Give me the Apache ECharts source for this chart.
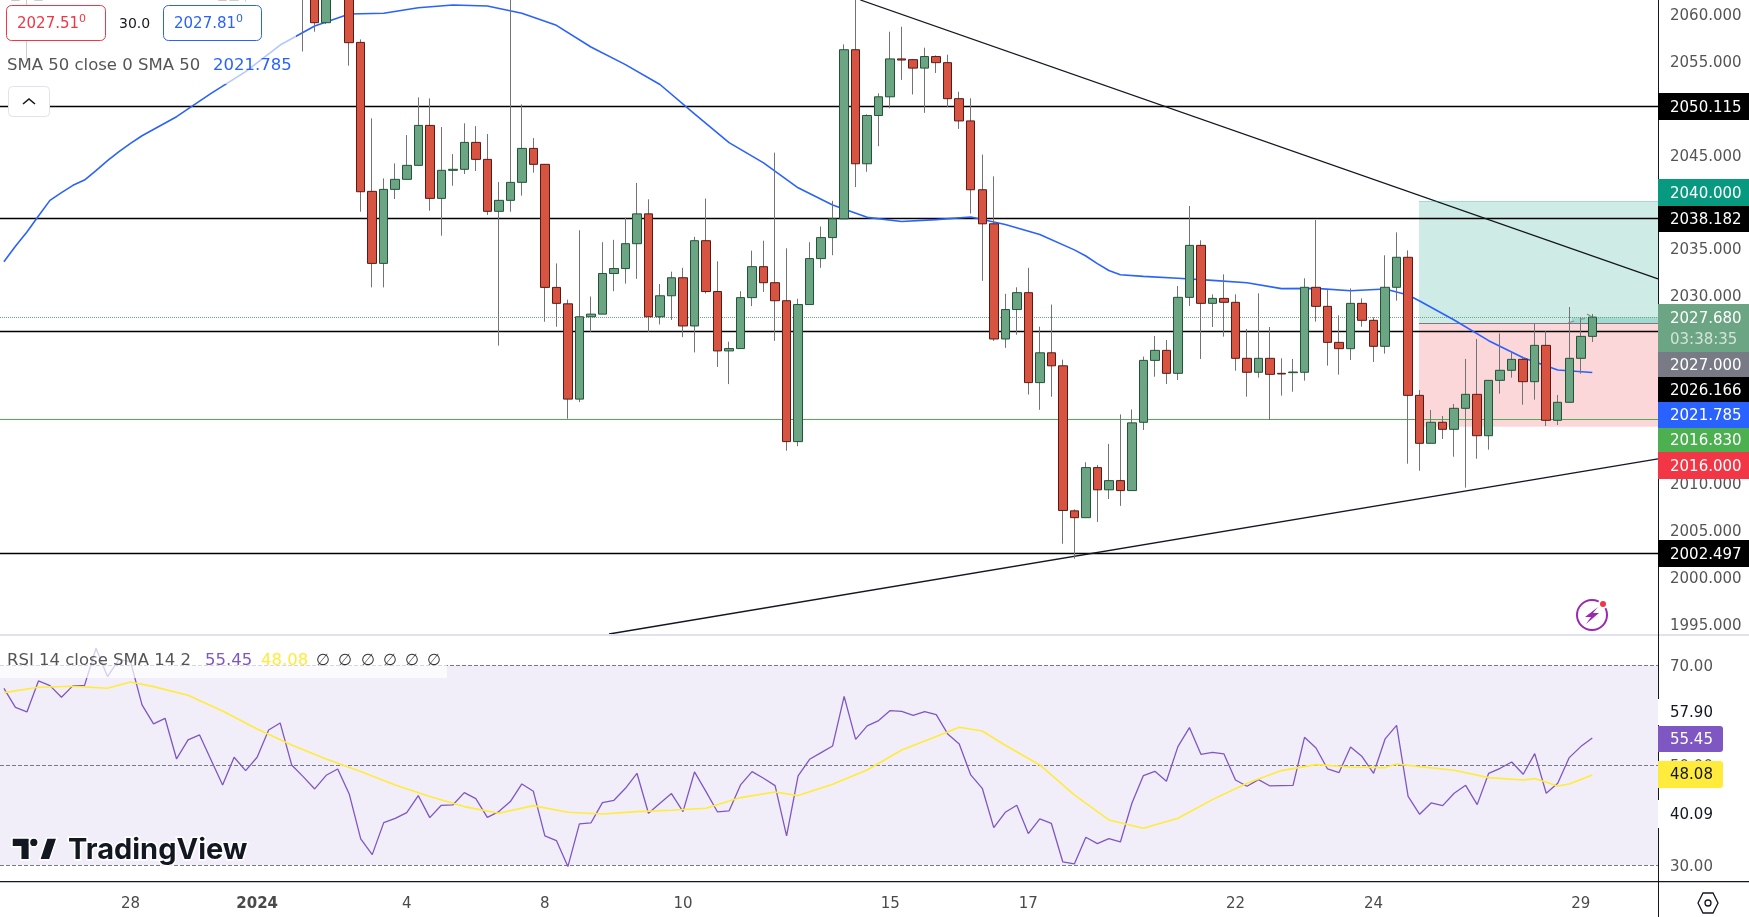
<!DOCTYPE html>
<html>

<head>
    <meta charset="UTF-8">
    <style type="text/css">
        html, body { margin: 0; padding: 0; background: #fff; }
        #chart { width: 1749px; height: 917px; }
    </style>
</head>

<body>
    <div id="chart"></div>
    <script src="https://cdn.jsdelivr.net/npm/echarts@6/dist/echarts.min.js"></script>
    <script type="text/javascript">
        'use strict';
        // 4h candles. null = candle sits above the pane and can't be read
        var opens = [
            null, 2064, 2063.5, 2061.47, null, null, null, null, null, null,
            null, null, null, null, null, null, null, null, null, 2064,
            2061.47, 2064, null, null, null, null, 2065, 2065, 2059.07, null,
            2065, 2056.97, 2041.09, 2033.41, 2041.30, 2042.37, 2043.86, 2048.12, 2040.34, 2043.33,
            2043.44, 2046.31, 2044.50, 2038.96, 2040.13, 2042.05, 2045.67, 2043.97, 2030.85, 2029.10,
            2018.94, 2027.72, 2028.00, 2032.33, 2032.86, 2035.51, 2038.69, 2027.72, 2029.96, 2031.88,
            2026.74, 2035.83, 2030.41, 2024.08, 2024.33, 2029.76, 2033.06, 2031.35, 2029.43, 2014.41,
            2029.02, 2033.92, 2036.16, 2038.16, 2056.19, 2044.03, 2049.18, 2051.17, 2055.21, 2055.13,
            2054.23, 2055.46, 2054.81, 2050.97, 2048.60, 2041.26, 2037.63, 2025.35, 2028.49, 2030.29,
            2020.70, 2023.88, 2022.49, 2007.03, 2006.30, 2011.64, 2009.27, 2010.25, 2009.19, 2016.47,
            2023.07, 2024.14, 2021.69, 2029.79, 2035.33, 2029.15, 2029.68, 2029.26, 2023.29, 2021.80,
            2023.29, 2021.69, 2021.76, 2021.80, 2030.86, 2028.83, 2024.99, 2024.32, 2029.15, 2027.34,
            2024.57, 2030.86, 2034.06, 2019.34, 2014.23, 2016.47, 2015.72, 2017.96, 2019.45, 2015.04,
            2020.94, 2022.01, 2023.18, 2020.80, 2024.67, 2016.68, 2018.60, 2023.29, 2025.63
        ];
        var closes = [
            null, 2061.47, 2063, 2064, null, null, null, null, null, null,
            null, null, null, null, null, null, null, null, null, 2061.47,
            2064, 2063, null, null, null, null, 2064, 2059.07, 2063.5, null,
            2056.94, 2041.05, 2033.41, 2041.30, 2042.37, 2043.86, 2048.12, 2040.34, 2043.33, 2043.44,
            2046.31, 2044.50, 2038.96, 2040.13, 2042.05, 2045.67, 2043.97, 2030.85, 2029.15, 2018.94,
            2027.72, 2028.00, 2032.33, 2032.86, 2035.51, 2038.69, 2027.72, 2029.96, 2031.88, 2026.74,
            2035.83, 2030.41, 2024.08, 2024.33, 2029.76, 2033.06, 2031.35, 2029.43, 2014.41, 2029.02,
            2033.92, 2036.16, 2038.16, 2056.19, 2044.03, 2049.18, 2051.17, 2055.21, 2055.09, 2054.23,
            2055.46, 2054.81, 2050.97, 2048.60, 2041.26, 2037.63, 2025.35, 2028.49, 2030.29, 2020.70,
            2023.88, 2022.49, 2007.07, 2006.30, 2011.64, 2009.27, 2010.25, 2009.19, 2016.41, 2023.07,
            2024.14, 2021.69, 2029.79, 2035.33, 2029.15, 2029.68, 2029.26, 2023.29, 2021.80, 2023.29,
            2021.58, 2021.62, 2021.83, 2030.86, 2028.83, 2024.99, 2024.32, 2029.15, 2027.34, 2024.57,
            2030.86, 2034.06, 2019.34, 2014.23, 2016.47, 2015.72, 2017.96, 2019.45, 2015.04, 2020.94,
            2022.01, 2023.18, 2020.80, 2024.67, 2016.68, 2018.60, 2023.29, 2025.63, 2027.68
        ];
        var lows = [
            null, 2061.47, 2055.09, 2061.47, null, null, null, null, null, null,
            null, null, null, null, null, null, null, null, null, 2061.47,
            2061.47, 2061.31, null, null, null, null, 2056.0, 2058.11, 2058.93, null,
            2054.49, 2038.92, 2030.85, 2030.85, 2040.27, 2042.37, 2043.86, 2039.03, 2036.36, 2041.69,
            2042.94, 2043.26, 2038.57, 2024.64, 2038.92, 2040.63, 2043.08, 2027.19, 2026.66, 2016.85,
            2018.62, 2026.12, 2028.00, 2030.45, 2031.25, 2031.76, 2026.12, 2026.90, 2027.39, 2025.55,
            2023.92, 2030.20, 2022.37, 2020.54, 2024.33, 2028.86, 2030.37, 2025.15, 2013.44, 2013.92,
            2029.02, 2032.94, 2034.28, 2038.16, 2041.55, 2043.18, 2045.90, 2049.95, 2052.97, 2051.42,
            2049.46, 2053.71, 2050.07, 2047.75, 2038.73, 2031.55, 2025.15, 2024.41, 2025.80, 2019.43,
            2017.80, 2019.19, 2003.52, 2001.93, 2006.30, 2005.85, 2008.29, 2007.56, 2009.19, 2015.65,
            2021.33, 2020.55, 2020.98, 2028.87, 2023.22, 2026.63, 2025.60, 2021.97, 2019.20, 2021.23,
            2016.71, 2019.31, 2019.73, 2020.91, 2027.20, 2022.51, 2021.55, 2023.11, 2026.66, 2022.90,
            2023.79, 2029.44, 2012.06, 2011.31, 2014.23, 2014.69, 2012.80, 2009.50, 2012.59, 2013.55,
            2019.52, 2021.23, 2018.35, 2018.88, 2016.07, 2016.18, 2018.60, 2021.65, 2025.03
        ];
        var highs = [
            null, 2065, 2064.5, 2065, null, null, null, null, null, null,
            null, null, null, null, null, null, null, null, null, 2065,
            2065, 2065, null, null, null, null, 2067, 2066, 2065, null,
            2066, 2057.29, 2048.87, 2042.47, 2044.07, 2047.09, 2051.11, 2051.00, 2047.95, 2045.07,
            2048.34, 2048.05, 2047.20, 2042.08, 2063, 2050.36, 2046.77, 2044.00, 2033.41, 2029.55,
            2036.94, 2029.88, 2035.67, 2035.92, 2038.28, 2041.99, 2040.24, 2031.22, 2032.53, 2032.94,
            2036.24, 2040.32, 2033.63, 2025.06, 2030.45, 2034.77, 2035.83, 2045.22, 2035.02, 2029.63,
            2035.67, 2037.34, 2040.08, 2056.76, 2062.5, 2049.30, 2051.54, 2058.11, 2058.64, 2055.21,
            2056.40, 2055.58, 2055.66, 2051.71, 2051.01, 2045.01, 2042.69, 2030.16, 2030.86, 2032.94,
            2026.66, 2029.02, 2023.15, 2007.19, 2012.21, 2011.92, 2014.17, 2017.31, 2017.84, 2023.47,
            2025.67, 2025.24, 2031.00, 2039.53, 2035.87, 2030.11, 2032.24, 2030.11, 2026.42, 2030.22,
            2026.63, 2023.29, 2023.22, 2031.82, 2038.04, 2030.57, 2027.87, 2030.75, 2029.68, 2027.66,
            2034.27, 2036.72, 2034.80, 2019.91, 2017.78, 2017.14, 2018.42, 2023.22, 2025.35, 2020.94,
            2025.95, 2024.00, 2023.47, 2026.95, 2026.17, 2019.38, 2028.76, 2027.66, 2028.01
        ];

        // SMA 50, read every few candles
        var smaIndex = [0, 1, 2, 3, 4, 5, 6, 7, 8, 9, 10, 11, 12, 15, 18, 21, 24, 27, 30, 33, 36, 39, 42, 45, 48, 51, 54, 57, 60, 63, 66, 69, 72, 75, 78, 81, 84, 87, 90, 93, 94, 95, 96, 97, 99, 102, 105, 108, 111, 114, 117, 120, 122, 123, 126, 129, 132, 135, 138];
        var smaValues = [2033.59, 2035.23, 2036.75, 2038.46, 2040.13, 2040.95, 2041.73, 2042.30, 2043.29, 2044.36, 2045.32, 2046.21, 2047.02, 2049.05, 2051.54, 2053.85, 2056.69, 2058.72, 2059.99, 2060.07, 2060.67, 2060.95, 2060.85, 2060.07, 2058.79, 2056.48, 2054.60, 2052.48, 2049.34, 2046.28, 2044.12, 2041.47, 2039.63, 2038.32, 2037.87, 2038.08, 2038.36, 2037.55, 2036.49, 2034.85, 2034.20, 2033.39, 2032.65, 2032.20, 2032.03, 2031.82, 2031.60, 2031.35, 2030.72, 2030.75, 2030.50, 2030.68, 2030.04, 2029.40, 2027.37, 2025.17, 2023.36, 2022.04, 2021.785];

        var rsiValues = [
            65.40, 61.60, 60.67, 66.87, 65.94, 63.60, 65.94, 65.94, 73.40, 67.74,
            71.20, 70.74, 62.07, 58.27, 59.40, 51.27, 55.07, 56.07, 51.07, 46.07,
            51.60, 48.94, 51.60, 57.07, 58.47, 50.07, 47.74, 45.27, 48.00, 49.27,
            44.27, 35.27, 32.14, 38.54, 39.40, 40.54, 43.94, 39.54, 42.00, 42.07,
            44.54, 43.34, 39.60, 40.74, 42.74, 46.27, 44.80, 35.87, 34.94, 29.74,
            38.27, 38.47, 42.54, 43.00, 45.40, 48.40, 40.40, 42.40, 44.34, 40.74,
            48.67, 44.74, 40.67, 40.87, 46.07, 48.74, 47.40, 45.94, 35.87, 47.87,
            51.20, 52.54, 53.87, 63.80, 55.20, 57.87, 58.94, 60.94, 60.80, 60.00,
            60.74, 60.14, 56.27, 54.27, 48.07, 45.40, 37.54, 40.60, 42.00, 36.34,
            39.27, 38.40, 30.67, 30.27, 35.60, 34.34, 35.34, 34.67, 42.40, 47.94,
            48.80, 46.80, 53.74, 57.54, 52.20, 52.60, 52.27, 47.07, 45.80, 47.14,
            45.87, 45.94, 46.00, 55.60, 53.47, 49.27, 48.54, 53.67, 51.74, 48.40,
            55.27, 58.00, 43.80, 40.20, 42.47, 41.94, 44.40, 46.00, 42.14, 48.40,
            49.40, 50.67, 48.20, 52.34, 44.40, 46.40, 51.54, 53.74, 55.45
        ];
        var signalIndex = [0, 3, 6, 9, 11, 13, 16, 19, 22, 25, 28, 31, 34, 37, 40, 43, 46, 49, 52, 55, 58, 61, 64, 67, 69, 72, 75, 78, 81, 83, 85, 87, 90, 93, 96, 99, 102, 105, 108, 111, 114, 117, 120, 121, 123, 126, 129, 132, 133, 135, 136, 138];
        var signalValues = [64.54, 65.60, 65.80, 65.40, 66.67, 65.74, 64.00, 60.87, 57.27, 54.07, 51.27, 48.74, 46.07, 43.74, 41.74, 40.40, 41.94, 40.60, 40.27, 40.74, 41.00, 41.40, 43.54, 44.67, 43.94, 46.20, 49.07, 53.07, 55.74, 57.60, 56.87, 54.00, 50.07, 44.07, 39.07, 37.40, 39.40, 43.14, 46.40, 48.94, 50.14, 49.67, 49.54, 50.27, 49.74, 49.00, 47.54, 47.07, 47.34, 45.87, 46.27, 48.08];

        var tickIndex = [11, 22, 35, 47, 59, 77, 89, 107, 119, 137];
        var tickLabels = ['28', '2024', '4', '8', '10', '15', '17', '22', '24', '29'];
        var priceTicks = [1995, 2000, 2005, 2010, 2015, 2020, 2025, 2030, 2035, 2040, 2045, 2050, 2055, 2060];
        var rsiTicks = [30, 50, 70];

        var levels = [2050.115, 2038.182, 2026.166, 2002.497];
        var support = 2016.83;
        var lastPrice = 2027.68;
        var entry = 2027, target = 2040, stop = 2016;
        var upperTrend = [[74.41, 2061.49], [143.71, 2031.75]];
        var lowerTrend = [[52.57, 1993.9], [143.71, 2012.56]];
        var boxStart = 122.94, filledStart = 136.2;

        var xMin = -0.34, xMax = 143.71;

        var wickData = [], bodyData = [];
        opens.forEach(function (o, i) {
            if (o === null) return;
            var c = closes[i];
            wickData.push([i, o, c, lows[i], highs[i]]);
            bodyData.push([i, o, c, Math.min(o, c), Math.max(o, c)]);
        });
        function pairs(xs, ys) {
            return xs.map(function (x, i) { return [x, ys[i]]; });
        }

        var FONT = '"DejaVu Sans"';
        var graphics = [];
        function rect(x, y, w, h, fill, extra) {
            graphics.push({
                type: 'rect', z: 100, silent: true,
                shape: { x: x, y: y, width: w, height: h, r: (extra && extra.r) || 0 },
                style: { fill: fill, stroke: (extra && extra.stroke) || null, lineWidth: 1, opacity: (extra && extra.opacity) || 1 }
            });
        }
        function text(str, x, y, color, size, extra) {
            graphics.push({
                type: 'text', z: 101, silent: true,
                style: Object.assign({
                    text: str, x: x, y: y, fill: color,
                    font: (size || 15) + 'px ' + FONT,
                    textAlign: 'left', textVerticalAlign: 'middle'
                }, extra || {})
            });
        }
        function shape(type, shapeOpt, style) {
            graphics.push({ type: type, z: 101, silent: true, shape: shapeOpt, style: style });
        }
        function tag(str, top, bottom, fill, color) {
            rect(1658, top, 91, bottom - top, fill);
            text(str, 1670, (top + bottom) / 2 + 1.5, color || '#fff');
        }

        // panes separator, bottom rule, scale border
        rect(0, 634, 1749, 2, '#e0e3eb');
        rect(0, 881, 1749, 1.2, '#131722');
        rect(1658, 0, 1, 917, '#131722');

        // price scale tags
        tag('2050.115', 93, 120, '#000');
        tag('2040.000', 179, 206, '#089981');
        tag('2038.182', 206, 232, '#000');
        rect(1658, 304, 91, 48, '#6ba583');
        text('2027.680', 1670, 319, '#fff');
        text('03:38:35', 1670, 340, 'rgba(255,255,255,0.7)');
        tag('2027.000', 352, 377, '#787b86');
        tag('2026.166', 377, 402, '#000');
        tag('2021.785', 402, 428, '#2962ff');
        tag('2016.830', 428, 452, '#4caf50');
        tag('2016.000', 452, 479, '#f23645');
        tag('2002.497', 540, 567, '#000');

        // rsi scale tags
        rect(1658, 699, 70, 26, '#fff');
        text('57.90', 1670, 713.5, '#131722');
        rect(1658, 800, 70, 28, '#fff');
        text('40.09', 1670, 815.5, '#131722');
        rect(1658, 726, 65, 26, '#7e57c2', { r: [0, 3, 3, 0] });
        text('55.45', 1670, 740.5, '#fff');
        rect(1658, 761, 65, 27, '#ffeb3b', { r: [0, 3, 3, 0] });
        text('48.08', 1670, 775.5, '#131722');

        // legend on the main pane
        rect(0, 0, 296, 84, '#fff', { opacity: 0.65 });
        rect(6.5, 5.5, 99, 35, '#fff', { stroke: '#f23645', r: 5 });
        text('2027.51', 17, 24, '#f23645');
        text('0', 79, 19, '#f23645', 11);
        text('30.0', 119, 24.5, '#131722', 14);
        rect(163.5, 5.5, 98, 35, '#fff', { stroke: '#2962ff', r: 5 });
        text('2027.81', 174, 24, '#2962ff');
        text('0', 236, 19, '#2962ff', 11);
        text('SMA 50 close 0 SMA 50', 7, 66, '#555', 16.5);
        text('2021.785', 213, 66, '#2962ff', 16.5);
        rect(8.5, 86.5, 41, 30, '#fff', { stroke: '#e0e3eb', r: 4 });
        shape('polyline', { points: [[23, 104], [29, 99], [35, 104]] }, { stroke: '#131722', lineWidth: 1.6, fill: null });

        // legend on the rsi pane
        rect(0, 646, 447, 32, '#fff', { opacity: 0.7 });
        text('RSI 14 close SMA 14 2', 7, 661, '#555', 16.5);
        text('55.45', 205, 661, '#7e57c2', 16.5);
        text('48.08', 261, 661, '#ffeb3b', 16.5);
        [323, 345, 368, 390, 412, 434].forEach(function (x) {
            text('\u2205', x - 7, 661, '#333', 16);
        });

        // TradingView logo
        var logoStyle = { fill: '#131722', stroke: '#fff', lineWidth: 1.5 };
        shape('polygon', { points: [[29.4, 838], [12, 838], [12, 846.7], [20.7, 846.7], [20.7, 859.8], [29.4, 859.8]] }, logoStyle);
        shape('polygon', { points: [[49.7, 859.8], [39.6, 859.8], [46.8, 838], [57, 838]] }, logoStyle);
        shape('circle', { cx: 33.8, cy: 842.4, r: 4.35 }, logoStyle);
        text('TradingView', 68, 850, '#131722', 29, {
            font: '700 29px Inter', stroke: '#fff', lineWidth: 3
        });

        // bolt icon
        shape('circle', { cx: 1592, cy: 615, r: 15 }, { fill: '#fff', stroke: '#9c27b0', lineWidth: 2 });
        shape('polygon', { points: [[1598, 607], [1585, 617], [1591, 617], [1586, 624], [1599, 613], [1593, 613]] }, { fill: '#9c27b0' });
        shape('circle', { cx: 1603, cy: 604, r: 4 }, { fill: '#f23645', stroke: '#fff', lineWidth: 2 });

        // small grey arrows of the position tool
        [[[1568, 323], [1574, 321]], [[1580, 319.5], [1585, 318.5]], [[1587, 314], [1592, 317]]].forEach(function (pts) {
            shape('polyline', { points: pts }, { stroke: '#8a8a8a', lineWidth: 1.2, fill: null });
        });

        // settings hexagon
        shape('polygon', { points: [[1703, 893], [1713, 893], [1718, 903], [1713, 913], [1703, 913], [1698, 903]] }, { fill: '#fff', stroke: '#131722', lineWidth: 1.3 });
        shape('circle', { cx: 1708, cy: 903, r: 3 }, { fill: '#fff', stroke: '#131722', lineWidth: 1.3 });

        var levelLines = levels.map(function (v) {
            return { yAxis: v, lineStyle: { color: '#000', width: 1.3, type: 'solid' } };
        });
        levelLines.push({ yAxis: support, lineStyle: { color: '#4caf50', width: 1.2, type: 'solid' } });
        levelLines.push({ yAxis: lastPrice, lineStyle: { color: '#6ba583', width: 1, type: 'dotted' } });
        [upperTrend, lowerTrend].forEach(function (t) {
            levelLines.push([
                { coord: t[0], lineStyle: { color: '#131722', width: 1.3, type: 'solid' } },
                { coord: t[1] }
            ]);
        });
        levelLines.push([
            { coord: [boxStart, entry], lineStyle: { color: '#787b86', width: 1.2, type: 'solid' } },
            { coord: [xMax, entry] }
        ]);
        levelLines.push([
            { coord: [boxStart, target], lineStyle: { color: 'rgba(8,153,129,0.3)', width: 1, type: 'solid' } },
            { coord: [xMax, target] }
        ]);

        var chart = echarts.init(document.getElementById('chart'));
        chart.setOption({
            animation: false,
            backgroundColor: '#fff',
            textStyle: { fontFamily: 'DejaVu Sans' },
            grid: [
                { left: 0, top: 0, width: 1658, height: 634 },
                { left: 0, top: 636, width: 1658, height: 245 }
            ],
            xAxis: [
                {
                    type: 'value', gridIndex: 0, min: xMin, max: xMax, show: false
                },
                {
                    type: 'value', gridIndex: 1, min: xMin, max: xMax,
                    axisLine: { show: false },
                    axisTick: { show: false },
                    splitLine: { show: false },
                    axisLabel: {
                        customValues: tickIndex,
                        hideOverlap: false,
                        showMinLabel: true,
                        showMaxLabel: true,
                        margin: 16,
                        fontSize: 15,
                        fontFamily: FONT,
                        color: '#4a4a4a',
                        rich: { b: { fontSize: 15, fontFamily: FONT, fontWeight: 600, color: '#4a4a4a' } },
                        formatter: function (v) {
                            var s = tickLabels[tickIndex.indexOf(v)];
                            return s === '2024' ? '{b|' + s + '}' : s;
                        }
                    }
                }
            ],
            yAxis: [
                {
                    type: 'value', gridIndex: 0, position: 'right', min: 1993.9, max: 2061.49,
                    axisLine: { show: false, onZero: false },
                    axisTick: { show: false },
                    splitLine: { show: false },
                    axisLabel: {
                        customValues: priceTicks,
                        margin: 12,
                        verticalAlign: 'top',
                        lineHeight: 4,
                        fontSize: 15,
                        fontFamily: FONT,
                        color: '#555',
                        formatter: function (v) { return v.toFixed(3); }
                    }
                },
                {
                    type: 'value', gridIndex: 1, position: 'right', min: 26.86, max: 75.86,
                    axisLine: { show: false, onZero: false },
                    axisTick: { show: false },
                    splitLine: { show: false },
                    axisLabel: {
                        customValues: rsiTicks,
                        margin: 12,
                        verticalAlign: 'top',
                        lineHeight: 4,
                        fontSize: 15,
                        fontFamily: FONT,
                        color: '#555',
                        formatter: function (v) { return v.toFixed(2); }
                    }
                }
            ],
            series: [
                {
                    // long / short position boxes and drawn levels
                    type: 'line', xAxisIndex: 0, yAxisIndex: 0, data: [], z: 1, silent: true,
                    markArea: {
                        silent: true, z: 1,
                        data: [
                            [{ coord: [boxStart, target], itemStyle: { color: 'rgba(8,153,129,0.2)' } }, { coord: [xMax, entry] }],
                            [{ coord: [boxStart, entry], itemStyle: { color: 'rgba(242,54,69,0.2)' } }, { coord: [xMax, stop] }],
                            [{ coord: [filledStart, lastPrice], itemStyle: { color: 'rgba(8,153,129,0.22)' } }, { coord: [xMax, entry] }]
                        ]
                    },
                    markLine: {
                        silent: true, z: 2, symbol: ['none', 'none'],
                        label: { show: false },
                        data: levelLines
                    }
                },
                {
                    name: 'SMA 50', type: 'line', xAxisIndex: 0, yAxisIndex: 0, z: 3,
                    data: pairs(smaIndex, smaValues), showSymbol: false, silent: true,
                    lineStyle: { color: '#2962ff', width: 1.6 }
                },
                {
                    // wicks only, thin box keeps them grey
                    type: 'candlestick', xAxisIndex: 0, yAxisIndex: 0, z: 4, silent: true,
                    encode: { x: 0, y: [1, 2, 3, 4] },
                    barWidth: 1,
                    data: wickData,
                    itemStyle: {
                        color: '#737375', color0: '#737375', borderColor: '#737375', borderColor0: '#737375',
                        borderColorDoji: '#737375', borderWidth: 1
                    }
                },
                {
                    type: 'candlestick', xAxisIndex: 0, yAxisIndex: 0, z: 5, silent: true,
                    encode: { x: 0, y: [1, 2, 3, 4] },
                    barWidth: 9,
                    data: bodyData,
                    itemStyle: {
                        color: '#6ba583', color0: '#d75442', borderColor: '#225437', borderColor0: '#5b1a13',
                        borderColorDoji: '#225437', borderWidth: 1
                    }
                },
                {
                    // rsi band and dashed limits
                    type: 'line', xAxisIndex: 1, yAxisIndex: 1, data: [], z: 1, silent: true,
                    markArea: {
                        silent: true, z: 1,
                        itemStyle: { color: 'rgba(126,87,194,0.1)' },
                        data: [[{ yAxis: 70 }, { yAxis: 30 }]]
                    },
                    markLine: {
                        silent: true, z: 2, symbol: ['none', 'none'],
                        label: { show: false },
                        lineStyle: { color: '#787b86', width: 1, type: 'dashed' },
                        data: rsiTicks.map(function (v) { return { yAxis: v }; })
                    }
                },
                {
                    name: 'RSI', type: 'line', xAxisIndex: 1, yAxisIndex: 1, z: 3,
                    data: rsiValues.map(function (v, i) { return [i, v]; }),
                    showSymbol: false, silent: true,
                    lineStyle: { color: '#7e57c2', width: 1.3 }
                },
                {
                    name: 'RSI SMA', type: 'line', xAxisIndex: 1, yAxisIndex: 1, z: 4,
                    data: pairs(signalIndex, signalValues), showSymbol: false, silent: true,
                    lineStyle: { color: '#ffeb3b', width: 1.6 }
                }
            ],
            graphic: { elements: graphics }
        });
    </script>
</body>

</html>
